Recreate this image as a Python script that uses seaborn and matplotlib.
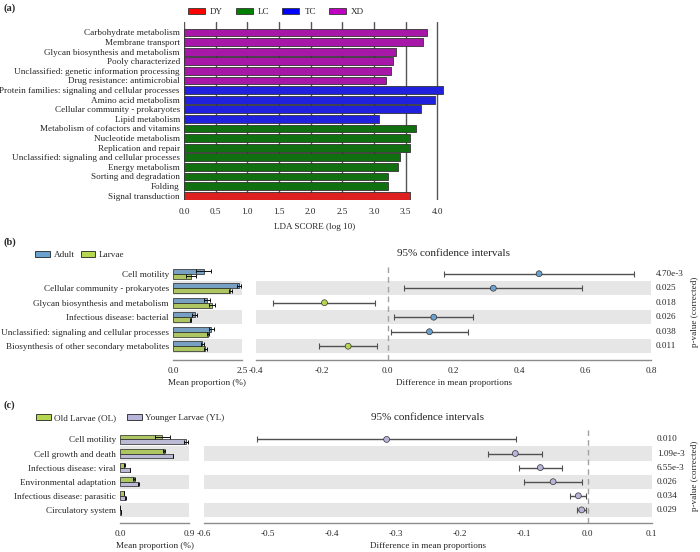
import numpy as np
import pandas as pd
import matplotlib
matplotlib.use("Agg")
import matplotlib.pyplot as plt
import matplotlib.transforms as mtransforms
from matplotlib.patches import Patch
import seaborn as sns

# ---------------- Panel (a): LEfSe LDA scores ----------------
lda_features = [
    "Carbohydrate metabolism", "Membrane transport",
    "Glycan biosynthesis and metabolism", "Pooly characterized",
    "Unclassified: genetic information processing",
    "Drug resistance: antimicrobial",
    "Protein families: signaling and cellular processes",
    "Amino acid metabolism", "Cellular community - prokaryotes",
    "Lipid metabolism", "Metabolism of cofactors and vitamins",
    "Nucleotide metabolism", "Replication and repair",
    "Unclassified: signaling and cellular processes", "Energy metabolism",
    "Sorting and degradation", "Folding", "Signal transduction",
]
lda_scores = [3.84, 3.77, 3.35, 3.30, 3.27, 3.19,
              4.09, 3.97, 3.74, 3.08,
              3.67, 3.57, 3.57, 3.41, 3.38, 3.22, 3.22,
              3.57]
lda_groups = ["XD"] * 6 + ["TC"] * 4 + ["LC"] * 7 + ["DY"]
group_order = ["DY", "LC", "TC", "XD"]
group_colors = ["#FF0000", "#008000", "#0000FF", "#C000C0"]
lda_ticks = [0.0, 0.5, 1.0, 1.5, 2.0, 2.5, 3.0, 3.5, 4.0]

# ---------------- Panel (b): Adult vs Larvae ----------------
b_features = [
    "Cell motility", "Cellular community - prokaryotes",
    "Glycan biosynthesis and metabolism", "Infectious disease: bacterial",
    "Unclassified: signaling and cellular processes",
    "Biosynthesis of other secondary metabolites",
]
b_groups = ["Adult", "Larvae"]
b_colors = ["#6AA1CF", "#B5D750"]
b_adult = [1.11, 2.39, 1.24, 0.78, 1.39, 1.06]
b_adult_err = [0.27, 0.08, 0.10, 0.10, 0.08, 0.05]
b_larvae = [0.66, 2.08, 1.41, 0.64, 1.27, 1.17]
b_larvae_err = [0.18, 0.05, 0.10, 0.03, 0.05, 0.05]
b_diff = [0.460, 0.321, -0.192, 0.140, 0.127, -0.120]
b_ci_low = [0.171, 0.050, -0.347, 0.020, 0.009, -0.208]
b_ci_high = [0.749, 0.591, -0.038, 0.258, 0.244, -0.033]
b_pvals = ["4.70e-3", "0.025", "0.018", "0.026", "0.038", "0.011"]
b_bar_ticks = [0.0, 2.5]
b_ci_ticks = [-0.4, -0.2, 0.0, 0.2, 0.4, 0.6, 0.8]

# ---------------- Panel (c): Old vs Younger larvae ----------------
c_features = [
    "Cell motility", "Cell growth and death", "Infectious disease: viral",
    "Environmental adaptation", "Infectious disease: parasitic",
    "Circulatory system",
]
c_groups = ["Old Larvae (OL)", "Younger Larvae (YL)"]
c_colors = ["#B5D750", "#B7B5DA"]
c_ol = [0.554, 0.576, 0.056, 0.180, 0.052, 0.003]
c_ol_err = [0.10, 0.01, 0.004, 0.01, 0.003, 0.001]
c_yl = [0.860, 0.692, 0.130, 0.238, 0.069, 0.012]
c_yl_err = [0.03, 0.005, 0.004, 0.005, 0.003, 0.001]
c_diff = [-0.314, -0.113, -0.074, -0.054, -0.0146, -0.0094]
c_ci_low = [-0.516, -0.155, -0.108, -0.099, -0.027, -0.017]
c_ci_high = [-0.112, -0.071, -0.040, -0.009, -0.002, -0.002]
c_pvals = ["0.010", "1.09e-3", "6.55e-3", "0.026", "0.034", "0.029"]
c_bar_ticks = [0.0, 0.9]
c_ci_ticks = [-0.6, -0.5, -0.4, -0.3, -0.2, -0.1, 0.0, 0.1]

# ---------------- Style ----------------
sns.set_theme(style="white")
plt.rcParams["font.family"] = ["Liberation Serif", "DejaVu Serif"]
FS = 6.6
plt.rcParams["font.size"] = FS
SPINE = "#8C8C8C"
BAND = "#E6E6E6"

W, H = 700, 552
fig = plt.figure(figsize=(W / 100, H / 100), dpi=100)


def rect(x0, y0, x1, y1):
    return [x0 / W, 1 - y1 / H, (x1 - x0) / W, (y1 - y0) / H]


# ================= Panel (a) =================
ax_a = fig.add_axes(rect(184, 22, 445, 200))
df_a = pd.DataFrame({"feature": lda_features, "score": lda_scores,
                     "group": lda_groups})
sns.barplot(data=df_a, y="feature", x="score", hue="group",
            hue_order=group_order, palette=group_colors, order=lda_features,
            dodge=False, width=0.8, edgecolor="#333333", linewidth=0.6,
            legend=False, ax=ax_a, zorder=3)
ax_a.set_xlim(0, 4.12)
ax_a.set_ylim(len(lda_features) - 0.55, -1.09)
ax_a.set_xticks(lda_ticks)
ax_a.set_xticklabels([f"{t:.1f}" for t in lda_ticks], fontsize=FS)
ax_a.grid(axis="x", color="#555555", lw=1.0, zorder=0)
ax_a.grid(axis="y", visible=False)
ax_a.set_axisbelow(True)
for s in ax_a.spines.values():
    s.set_visible(False)
ax_a.tick_params(axis="x", length=0, pad=6, labelsize=FS)
ax_a.tick_params(axis="y", length=0, pad=3, labelsize=FS)
ax_a.set_ylabel("")
ax_a.set_xlabel("LDA SCORE (log 10)", fontsize=FS, labelpad=5)
handles = [Patch(facecolor=c, edgecolor="#333333", linewidth=0.6, label=g)
           for g, c in zip(group_order, group_colors)]
fig.legend(handles=handles, loc="center", ncol=4, frameon=False,
           bbox_to_anchor=(276 / W, 1 - 12 / H), fontsize=FS,
           handlelength=1.85, handleheight=0.65, columnspacing=1.4,
           handletextpad=0.55)


# ================= Helper for (b) and (c) =================
def extended_bar(ax_bar, ax_ci, features, groups, colors, v1, e1, v2, e2,
                 diff, lo, hi, pvals, bar_ticks, ci_ticks, bar_xlim,
                 ci_xlim, ylim, plabel_x, title_off):
    n = len(features)
    idx = np.arange(n)
    df = pd.DataFrame({
        "feature": features * 2,
        "group": [groups[0]] * n + [groups[1]] * n,
        "value": list(v1) + list(v2),
    })
    width = 0.66
    for ax in (ax_bar, ax_ci):
        for i in idx[1::2]:
            ax.axhspan(i - 0.5, i + 0.5, color=BAND, lw=0, zorder=0)
    sns.barplot(data=df, y="feature", x="value", hue="group",
                hue_order=groups, palette=colors, order=features,
                width=width, errorbar=None, edgecolor="#222222",
                linewidth=0.5, legend=False, ax=ax_bar, zorder=2)
    off = width / 4
    ax_bar.errorbar(v1, idx - off, xerr=e1, fmt="none", ecolor="#111111",
                    elinewidth=0.7, capsize=1.6, capthick=0.7, zorder=4)
    ax_bar.errorbar(v2, idx + off, xerr=e2, fmt="none", ecolor="#111111",
                    elinewidth=0.7, capsize=1.6, capthick=0.7, zorder=4)
    ax_bar.set_xlim(*bar_xlim)
    ax_bar.set_ylim(*ylim)
    ax_bar.set_xticks(bar_ticks)
    ax_bar.set_xticklabels([f"{t:.1f}" for t in bar_ticks])
    ax_bar.set_ylabel("")
    ax_bar.set_xlabel("Mean proportion (%)", fontsize=FS, labelpad=3)

    diff = np.asarray(diff)
    lo = np.asarray(lo)
    hi = np.asarray(hi)
    ax_ci.axvline(0, color="#A0A0A0", ls=(0, (4, 3)), lw=1.0, zorder=1)
    ax_ci.errorbar(diff, idx, xerr=[diff - lo, hi - diff], fmt="none",
                   ecolor="#505050", elinewidth=1.0, capsize=2.0,
                   capthick=0.8, zorder=3)
    winner = [groups[0] if d > 0 else groups[1] for d in diff]
    sns.scatterplot(x=diff, y=idx, hue=winner, hue_order=groups,
                    palette=colors, s=18, edgecolor="#333333",
                    linewidth=0.5, legend=False, ax=ax_ci, zorder=5)
    ax_ci.set_xlim(*ci_xlim)
    ax_ci.set_ylim(*ylim)
    ax_ci.set_xticks(ci_ticks)
    ax_ci.set_xticklabels([f"{t:.1f}" for t in ci_ticks])
    ax_ci.set_yticks([])
    ax_ci.set_xlabel("Difference in mean proportions", fontsize=FS,
                     labelpad=3)
    ax_ci.text(0.5, 1.0 + title_off / ax_ci.bbox.height,
               "95% confidence intervals", transform=ax_ci.transAxes,
               ha="center", va="center", fontsize=8)
    tr = mtransforms.blended_transform_factory(ax_ci.transAxes,
                                               ax_ci.transData)
    for i, p in zip(idx, pvals):
        ax_ci.text(1.012, i, p, transform=tr, ha="left", va="center",
                   fontsize=FS)
    ax_ci.text(plabel_x, 0.5, "p-value (corrected)", rotation=90,
               transform=ax_ci.transAxes, ha="center", va="center",
               fontsize=FS)

    for ax in (ax_bar, ax_ci):
        for k in ("top", "right", "left"):
            ax.spines[k].set_visible(False)
        ax.spines["bottom"].set_color(SPINE)
        ax.spines["bottom"].set_linewidth(1.0)
        ax.tick_params(axis="x", length=3, color=SPINE, pad=2,
                       labelsize=FS, direction="out")
        ax.tick_params(axis="y", length=0, pad=3, labelsize=FS)
        ax.grid(False)


# ================= Panel (b) =================
ax_b1 = fig.add_axes(rect(173, 263, 242, 360))
ax_b2 = fig.add_axes(rect(256, 263, 651, 360))
extended_bar(ax_b1, ax_b2, b_features, b_groups, b_colors,
             b_adult, b_adult_err, b_larvae, b_larvae_err,
             b_diff, b_ci_low, b_ci_high, b_pvals,
             b_bar_ticks, b_ci_ticks, (0, 2.5), (-0.4, 0.8),
             (5.95, -0.74), (695 - 256) / 395, 10)
hb = [Patch(facecolor=c, edgecolor="#222222", linewidth=0.6, label=g)
      for g, c in zip(b_groups, b_colors)]
fig.legend(handles=hb, loc="center left", ncol=2, frameon=False,
           bbox_to_anchor=(27 / W, 1 - 255 / H), fontsize=FS,
           handlelength=1.6, handleheight=0.6, columnspacing=0.65,
           handletextpad=0.4)

# ================= Panel (c) =================
ax_c1 = fig.add_axes(rect(120, 428, 189, 523))
ax_c2 = fig.add_axes(rect(203.5, 428, 651.7, 523))
extended_bar(ax_c1, ax_c2, c_features, c_groups, c_colors,
             c_ol, c_ol_err, c_yl, c_yl_err,
             c_diff, c_ci_low, c_ci_high, c_pvals,
             c_bar_ticks, c_ci_ticks, (0, 0.9), (-0.6, 0.1),
             (5.93, -0.81), (695 - 203.5) / 448.2, 10)
hc = [Patch(facecolor=c, edgecolor="#222222", linewidth=0.6, label=g)
      for g, c in zip(c_groups, c_colors)]
fig.legend(handles=hc, loc="center left", ncol=2, frameon=False,
           bbox_to_anchor=(28 / W, 1 - 418 / H), fontsize=FS,
           handlelength=1.6, handleheight=0.6, columnspacing=1.2,
           handletextpad=0.35)

# Panel labels
for lab, y in (("(a)", 8), ("(b)", 242), ("(c)", 405)):
    fig.text(4 / W, 1 - y / H, lab, fontsize=7.5, fontweight="bold",
             ha="left", va="center")

fig.savefig("out.png", dpi=100)
